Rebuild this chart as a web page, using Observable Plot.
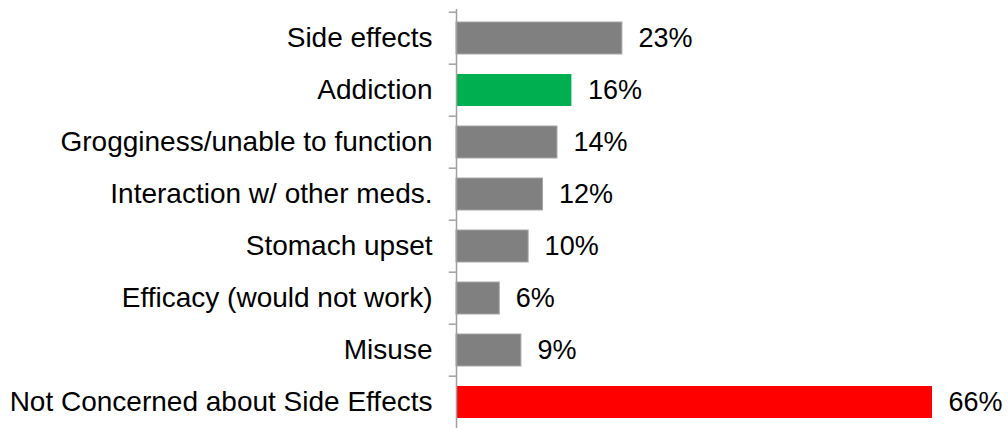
<!DOCTYPE html>
<html>
<head>
<meta charset="utf-8">
<script src="https://cdn.jsdelivr.net/npm/d3@7"></script>
<script src="https://cdn.jsdelivr.net/npm/@observablehq/plot@0.6"></script>
<style>
  html, body { margin: 0; padding: 0; background: #fff; }
  #chart svg { display: block; }
</style>
</head>
<body>
<div id="chart"></div>
<script>
const categories = [
  "Side effects",
  "Addiction",
  "Grogginess/unable to function",
  "Interaction w/ other meds.",
  "Stomach upset",
  "Efficacy (would not work)",
  "Misuse",
  "Not Concerned about Side Effects"
];
const values = [23, 16, 14, 12, 10, 6, 9, 66];
const barColors = ["#808080", "#00B050", "#808080", "#808080", "#808080", "#808080", "#808080", "#FF0000"];
const barStrokes = ["#a6a6a6", "none", "#a6a6a6", "#a6a6a6", "#a6a6a6", "#a6a6a6", "#a6a6a6", "none"];

const data = categories.map((c, i) => ({category: c, value: values[i], fill: barColors[i], stroke: barStrokes[i]}));

const H = 428;
const yRange = [9.5, 430.5];
const step = (yRange[1] - yRange[0]) / categories.length;

const chart = Plot.plot({
  width: 1008,
  height: H,
  marginLeft: 456,
  marginRight: 76,
  marginTop: 9,
  marginBottom: 0,
  style: {fontFamily: "Liberation Sans, Arial, sans-serif", fontSize: "28px", color: "#000", background: "#fff"},
  x: {domain: [0, 66], axis: null},
  y: {domain: categories, range: yRange, paddingInner: 0.38, paddingOuter: 0.19, label: null, tickSize: 0, tickPadding: 24},
  marks: [
    Plot.barX(data, {x: "value", y: "category", fill: "fill", stroke: "stroke", strokeWidth: 1}),
    Plot.text(data, {x: "value", y: "category", text: d => d.value + "%", textAnchor: "start", dx: 16, fontSize: 27, fill: "#000"}),
    Plot.ruleX([0], {stroke: "#a0a0a0", strokeWidth: 1.5}),
    Plot.ruleY(categories, {y: d => d, x1: -1.0, x2: 0, dy: -step / 2, stroke: "#a0a0a0", strokeWidth: 1.5})
  ]
});
document.getElementById("chart").appendChild(chart);
</script>
</body>
</html>
